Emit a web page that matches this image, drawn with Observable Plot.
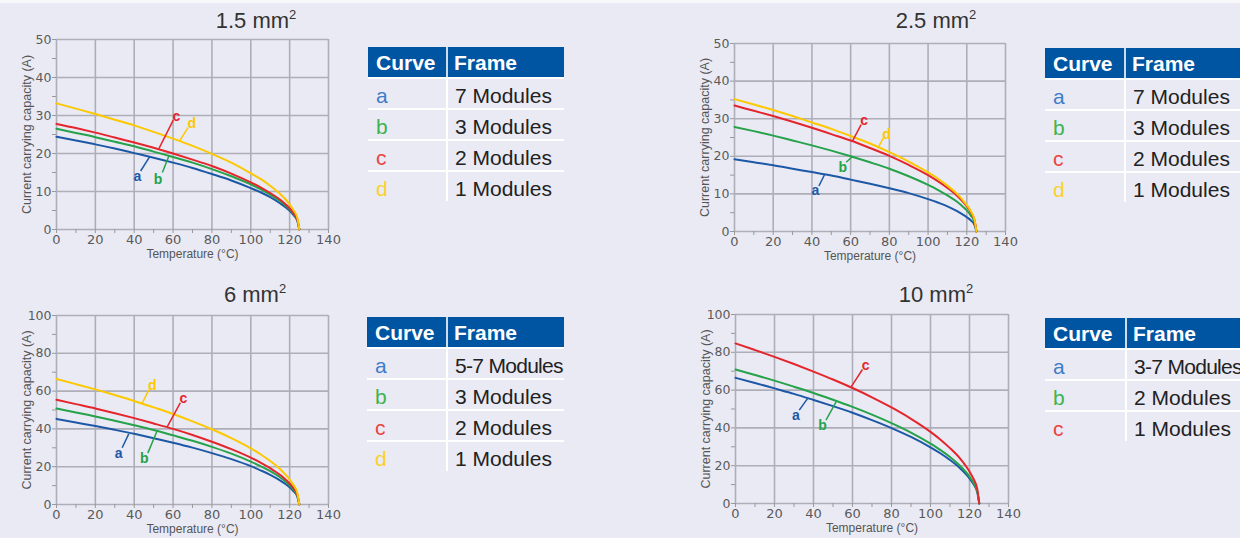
<!DOCTYPE html>
<html><head><meta charset="utf-8">
<script src="https://cdn.jsdelivr.net/npm/d3@7"></script>
<script src="https://cdn.jsdelivr.net/npm/@observablehq/plot@0.6"></script>
<style>
html,body{margin:0;padding:0;}
body{width:1240px;height:538px;overflow:hidden;background:#eaeaf4;position:relative;font-family:"Liberation Sans",Arial,sans-serif;}
.topstrip{position:absolute;left:0;top:0;width:1240px;height:3px;background:#f8f8fb;}
.title{position:absolute;font-size:22px;color:#333;transform:translate(-50%,-50%);white-space:nowrap;line-height:1;}
.title sup{font-size:13px;vertical-align:9px;line-height:0;}
.panel{position:absolute;}
.cell{position:absolute;box-sizing:border-box;white-space:nowrap;overflow:visible;font-size:21px;line-height:1;display:flex;align-items:center;}
.hdr{background:#0055a2;color:#fff;font-weight:bold;}
.sep{position:absolute;background:#ffffff;}
</style></head><body>
<div class="topstrip"></div>
<script>
// ---------- data ----------
const temps = [0,10,20,30,40,50,60,70,80,90,100,105,110,115,118,120,122,124,125];
const curveKeys = ["a","b","c","d"];
const curveColors = ["#1c58a6","#25a24a","#e4262c","#fcc800"];
const letterColors = ["#3d7cc9","#3cb44e","#ea4340","#fad12c"];

// 1.5 mm²
const cap15a = [24.4,23.4,22.4,21.3,20.1,18.9,17.6,16.2,14.6,12.9,10.9,9.8,8.5,6.9,5.8,4.9,3.8,2.2,0];
const cap15b = [26.5,25.4,24.3,23.1,21.9,20.5,19.1,17.6,15.9,14.0,11.9,10.6,9.2,7.5,6.3,5.3,4.1,2.4,0];
const cap15c = [27.8,26.7,25.5,24.2,22.9,21.5,20.0,18.4,16.7,14.7,12.4,11.1,9.6,7.9,6.6,5.6,4.3,2.5,0];
const cap15d = [33.2,31.8,30.4,28.9,27.4,25.7,23.9,22.0,19.9,17.6,14.8,13.3,11.5,9.4,7.9,6.6,5.1,3.0,0];
// 2.5 mm²
const cap25a = [19.2,18.4,17.6,16.7,15.8,14.9,13.8,12.7,11.5,10.2,8.6,7.7,6.7,5.4,4.5,3.8,3.0,1.7,0];
const cap25b = [27.8,26.7,25.5,24.2,22.9,21.5,20.0,18.4,16.7,14.7,12.4,11.1,9.6,7.9,6.6,5.6,4.3,2.5,0];
const cap25c = [33.5,32.1,30.7,29.2,27.6,25.9,24.2,22.2,20.1,17.7,15.0,13.4,11.6,9.5,7.9,6.7,5.2,3.0,0];
const cap25d = [35.2,33.8,32.3,30.7,29.0,27.3,25.4,23.4,21.1,18.6,15.7,14.1,12.2,10.0,8.3,7.0,5.5,3.1,0];
// 6 mm²
const cap6a = [45.3,43.4,41.5,39.5,37.4,35.1,32.7,30.1,27.2,24.0,20.3,18.1,15.7,12.8,10.7,9.1,7.0,4.0,0];
const cap6b = [50.8,48.7,46.6,44.3,41.9,39.4,36.6,33.7,30.5,26.9,22.7,20.3,17.6,14.4,12.0,10.2,7.9,4.5,0];
const cap6c = [55.4,53.1,50.8,48.3,45.7,42.9,40.0,36.8,33.2,29.3,24.8,22.2,19.2,15.7,13.1,11.1,8.6,5.0,0];
const cap6d = [66.4,63.7,60.9,57.9,54.8,51.4,47.9,44.0,39.8,35.1,29.7,26.6,23.0,18.8,15.7,13.3,10.3,5.9,0];
// 10 mm²
const cap10a = [66.5,63.8,60.9,58.0,54.8,51.5,48.0,44.1,39.9,35.2,29.7,26.6,23.0,18.8,15.7,13.3,10.3,5.9,0];
const cap10b = [70.9,68.0,65.0,61.8,58.5,54.9,51.1,47.0,42.5,37.5,31.7,28.4,24.6,20.1,16.8,14.2,11.0,6.3,0];
const cap10c = [84.7,81.2,77.6,73.8,69.8,65.6,61.1,56.2,50.8,44.8,37.9,33.9,29.3,24.0,20.0,16.9,13.1,7.6,0];

const frames15 = ["7 Modules","3 Modules","2 Modules","1 Modules"];
const frames25 = ["7 Modules","3 Modules","2 Modules","1 Modules"];
const frames6  = ["5-7 Modules","3 Modules","2 Modules","1 Modules"];
const frames10 = ["3-7 Modules","2 Modules","1 Modules"];

const xTicks = [0,20,40,60,80,100,120,140];
const xMinor = [0,10,20,30,40,50,60,70,80,90,100,110,120,130,140];
const yTicks50 = [0,10,20,30,40,50];
const yMinor50 = [0,5,10,15,20,25,30,35,40,45,50];
const yTicks100 = [0,20,40,60,80,100];
const yMinor100 = [0,10,20,30,40,50,60,70,80,90,100];

// curve labels: letter position and leader line (data units)
const labels15 = [
  {k:"a",tx:41.6,ty:13.9,x1:43.3,y1:15.4,x2:47.9,y2:19.1},
  {k:"b",tx:52.2,ty:13.1,x1:54.5,y1:15.0,x2:57.9,y2:19.4},
  {k:"c",tx:61.7,ty:29.7,x1:60.1,y1:28.8,x2:52.7,y2:21.3},
  {k:"d",tx:69.6,ty:28.0,x1:67.7,y1:26.8,x2:63.4,y2:23.3}];
const labels25 = [
  {k:"a",tx:41.8,ty:10.8,x1:43.6,y1:12.1,x2:46.5,y2:15.1},
  {k:"b",tx:56.0,ty:17.0,x1:57.7,y1:18.4,x2:61.1,y2:20.0},
  {k:"c",tx:67.0,ty:29.4,x1:65.4,y1:28.4,x2:60.8,y2:23.9},
  {k:"d",tx:78.5,ty:25.9,x1:76.8,y1:24.8,x2:74.1,y2:22.2}];
const labels6 = [
  {k:"a",tx:32.0,ty:27.2,x1:33.8,y1:30.0,x2:37.2,y2:37.4},
  {k:"b",tx:45.2,ty:24.2,x1:47.0,y1:27.2,x2:51.7,y2:38.8},
  {k:"c",tx:65.3,ty:56.1,x1:63.7,y1:53.8,x2:56.9,y2:40.9},
  {k:"d",tx:49.3,ty:63.0,x1:47.6,y1:60.8,x2:44.0,y2:53.3}];
const labels10 = [
  {k:"a",tx:31.0,ty:46.7,x1:32.7,y1:49.4,x2:37.2,y2:55.9},
  {k:"b",tx:44.6,ty:41.4,x1:46.4,y1:44.1,x2:51.6,y2:53.8},
  {k:"c",tx:66.8,ty:73.2,x1:65.1,y1:70.9,x2:59.3,y2:61.7}];

// ---------- drawing ----------
function makePanel(cfg){
  const rows = [];
  cfg.series.forEach((vals,i)=>vals.forEach((v,j)=>rows.push({T:temps[j],I:v,k:curveKeys[i]})));
  const grid = "#aeaeb8";
  const svg = Plot.plot({
    width: cfg.w, height: cfg.h,
    marginLeft: 56, marginRight: cfg.w-56-cfg.pw, marginTop: cfg.mt, marginBottom: cfg.h-cfg.mt-cfg.ph,
    style: {background:"transparent", fontFamily:"DejaVu Sans", fontSize:"12px", color:"#555", overflow:"visible"},
    x: {domain:[0,140]},
    y: {domain:[0,cfg.ymax]},
    color: {domain: curveKeys, range: curveColors},
    marks: [
      Plot.ruleX(xTicks, {stroke:grid, strokeWidth:1.6}),
      Plot.ruleY(cfg.yTicks, {stroke:grid, strokeWidth:1.6}),
      Plot.axisX({ticks:xMinor, tickSize:4, tickFormat:()=>"", stroke:"#999", label:null}),
      Plot.axisX({ticks:xTicks, tickSize:0, tickPadding:5, label:null, fill:"#5a5a5a", fontSize:13}),
      Plot.axisY({ticks:cfg.yMinor, tickSize:4, tickFormat:()=>"", stroke:"#999", label:null}),
      Plot.axisY({ticks:cfg.yTicks, tickSize:0, tickPadding:5, label:null, fill:"#5a5a5a", fontSize:12.5}),
      Plot.text(["Temperature (°C)"], {frameAnchor:"bottom", dy:25, lineAnchor:"middle", fontFamily:"Liberation Sans", fontSize:12, fill:"#555", textAnchor:"middle"}),
      Plot.text(["Current carrying capacity (A)"], {frameAnchor:"left", rotate:-90, dx:-30, lineAnchor:"middle", fontFamily:"Liberation Sans", fontSize:12.5, fill:"#555", textAnchor:"middle"}),
      Plot.line(rows, {x:"T", y:"I", z:"k", stroke:"k", curve:"monotone-x", strokeWidth:2}),
      Plot.link(cfg.labels, {x1:"x1", y1:"y1", x2:"x2", y2:"y2", stroke:"k", strokeWidth:1.5}),
      Plot.text(cfg.labels, {x:"tx", y:"ty", text:"k", fill:"k", fontWeight:"bold", fontSize:14, fontFamily:"Liberation Sans"})
    ]
  });
  const div = document.createElement("div");
  div.className = "panel";
  div.style.left = cfg.left+"px"; div.style.top = cfg.top+"px";
  div.appendChild(svg);
  document.body.appendChild(div);

  const t = document.createElement("div");
  t.className = "title";
  t.style.left = cfg.titleX+"px"; t.style.top = cfg.titleY+"px";
  t.innerHTML = cfg.title + "<sup>2</sup>";
  document.body.appendChild(t);
}

function makeTable(left, top, w1, w2, frames){
  const add = (cls, x, y, w, h, html, color, pad) => {
    const d = document.createElement("div");
    d.className = cls;
    Object.assign(d.style, {left:x+"px", top:y+"px", width:w+"px", height:h+"px"});
    if (html !== undefined) d.textContent = html;
    if (color) d.style.color = color;
    if (pad !== undefined) d.style.paddingLeft = pad+"px";
    document.body.appendChild(d);
    return d;
  };
  add("cell hdr", left, top, w1, 30, "Curve", null, 8);
  add("cell hdr", left+w1+2, top, w2, 30, "Frame", null, 6);
  const n = frames.length;
  for (let i=0;i<n;i++){
    const y = top+30+i*31;
    add("sep", left, y, w1+w2+2, 2);
    add("cell", left, y+2, w1, 29, curveKeys[i], letterColors[i], 8).style.paddingTop="3px";
    const c = add("cell", left+w1+2, y+2, w2, 29, frames[i], "#222", 7);
    c.style.paddingTop="3px";
    if (frames[i].includes("-")) c.style.letterSpacing = "-0.7px";
  }
  add("sep", left+w1, top, 2, 30+n*31, undefined);
  const hdrSep = add("sep", left+w1, top, 2, 30, undefined);
  hdrSep.style.background = "#cfdcec";
}

makePanel({title:"1.5 mm", titleX:256, titleY:21, left:0, top:0, w:345, h:262, pw:272, ph:190, mt:39,
  ymax:50, yTicks:yTicks50, yMinor:yMinor50, series:[cap15a,cap15b,cap15c,cap15d], labels:labels15});
makePanel({title:"2.5 mm", titleX:936, titleY:21, left:678, top:4, w:344, h:262, pw:271, ph:188, mt:39,
  ymax:50, yTicks:yTicks50, yMinor:yMinor50, series:[cap25a,cap25b,cap25c,cap25d], labels:labels25});
makePanel({title:"6 mm", titleX:255, titleY:295, left:0, top:276, w:345, h:262, pw:272, ph:189, mt:39,
  ymax:100, yTicks:yTicks100, yMinor:yMinor100, series:[cap6a,cap6b,cap6c,cap6d], labels:labels6});
makePanel({title:"10 mm", titleX:936, titleY:295, left:679, top:275, w:346, h:262, pw:273, ph:189, mt:39,
  ymax:100, yTicks:yTicks100, yMinor:yMinor100, series:[cap10a,cap10b,cap10c], labels:labels10});

makeTable(368, 47, 78, 116, frames15);
makeTable(1045, 48, 79, 120, frames25);
makeTable(367, 317, 79, 116, frames6);
makeTable(1045, 318, 80, 120, frames10);
</script>
</body></html>
